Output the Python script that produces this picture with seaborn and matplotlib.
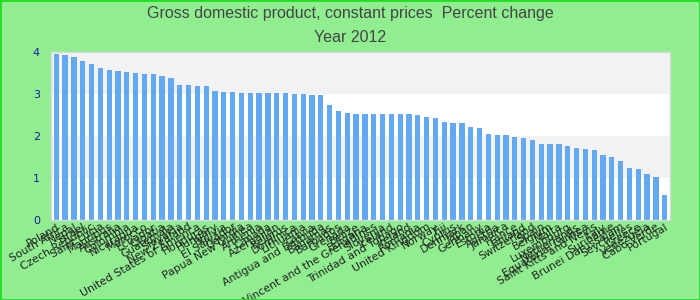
import matplotlib
matplotlib.use("Agg")
import matplotlib.pyplot as plt
import seaborn as sns
import pandas as pd

countries = [
    "Poland", "South Africa", "Nepal", "Israel", "Czech Republic", "Saint Lucia",
    "Mauritius", "Australia", "Colombia", "Nicaragua", "Morocco", "Ecuador",
    "Croatia", "Guatemala",
    "Slovakia", "New Zealand", "United States of America", "Honduras", "Hungary",
    "Bolivia", "El Salvador", "Georgia", "Papua New Guinea", "Armenia", "Canada",
    "Azerbaijan", "Belarus", "Dominica",
    "Lithuania", "Latvia", "Antigua and Barbuda", "Bahamas", "Barbados", "Grenada",
    "Belize", "Bulgaria", "Saint Vincent and the Grenadines", "Slovenia", "Iceland",
    "Trinidad and Tobago", "Ireland", "Romania",
    "United Kingdom", "Norway", "Fiji", "Cyprus", "Denmark", "Japan", "Germany",
    "Estonia", "Austria", "Jamaica", "France", "Finland", "Switzerland", "Spain",
    "Belgium", "Malta", "Luxembourg", "Netherlands", "Equatorial Guinea",
    "Saint Kitts and Nevis", "Italy", "Suriname", "Brunei Darussalam", "Seychelles",
    "Greece", "Venezuela", "Cabo Verde", "Portugal",
]
values = [
    3.94, 3.92, 3.87, 3.78, 3.71, 3.61, 3.56, 3.54, 3.52, 3.49, 3.47, 3.47, 3.42, 3.37,
    3.21, 3.21, 3.18, 3.18, 3.06, 3.04, 3.04, 3.02, 3.02, 3.02, 3.02, 3.02, 3.02, 2.99,
    2.99, 2.97, 2.97, 2.73, 2.59, 2.54, 2.52, 2.52, 2.52, 2.52, 2.52, 2.52, 2.52, 2.49,
    2.44, 2.42, 2.33, 2.30, 2.30, 2.21, 2.18, 2.04, 2.02, 2.02, 1.97, 1.94, 1.90, 1.80,
    1.80, 1.80, 1.75, 1.71, 1.68, 1.66, 1.54, 1.49, 1.40, 1.23, 1.21, 1.09, 1.02, 0.59,
]
y_ticks = [0, 1, 2, 3, 4]
title_line1 = "Gross domestic product, constant prices  Percent change"
title_line2 = "Year 2012"

df = pd.DataFrame({"country": countries, "value": values})

sns.set_theme(style="white")
plt.rcParams["font.family"] = ["DejaVu Sans"]

fig = plt.figure(figsize=(7, 3), dpi=100, facecolor="#90ee90")
ax = fig.add_axes([51 / 700, 80 / 300, 619 / 700, 168.3 / 300])
ax.set_facecolor("white")

# alternating bands
for i in range(len(y_ticks) - 1):
    if i % 2 == 1:
        ax.axhspan(y_ticks[i], y_ticks[i + 1], color="#f2f2f2", zorder=0, lw=0)

sns.barplot(data=df, x="country", y="value", color="#62a8f2", saturation=1,
            width=0.6, linewidth=0, edgecolor="none", ax=ax, zorder=2)

ax.set_ylim(0, 4)
ax.set_xlim(-0.6, len(countries) - 0.4)
ax.set_yticks(y_ticks)
ax.set_yticklabels([str(t) for t in y_ticks], color="#1a1aa0", fontsize=8)
ax.tick_params(axis="y", length=0, pad=8)
ax.tick_params(axis="x", length=0, pad=1)
ax.set_xlabel("")
ax.set_ylabel("")
for lbl in ax.get_xticklabels():
    lbl.set_rotation(30)
    lbl.set_ha("right")
    lbl.set_rotation_mode("anchor")
    lbl.set_fontsize(7.8)
    lbl.set_color("#222222")
for sp in ax.spines.values():
    sp.set_color("#d9d9d9")
    sp.set_linewidth(1)

fig.text(0.5, 0.955, title_line1, ha="center", va="center", fontsize=11.5,
         color="#444444", family=["Liberation Sans", "DejaVu Sans"])
fig.text(0.5, 0.875, title_line2, ha="center", va="center", fontsize=11.5,
         color="#444444", family=["Liberation Sans", "DejaVu Sans"])

# outer border
border = plt.Rectangle((0, 0), 1, 1, transform=fig.transFigure, fill=False,
                       edgecolor="#22dd22", linewidth=2)
fig.patches.append(border)

fig.savefig("out.png", dpi=100, facecolor=fig.get_facecolor())
